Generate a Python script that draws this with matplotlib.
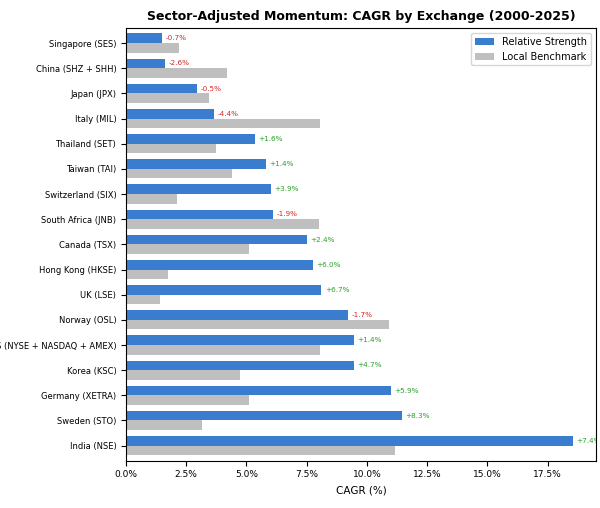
import matplotlib
matplotlib.use("Agg")
import matplotlib.pyplot as plt
import numpy as np
from matplotlib.ticker import FuncFormatter

exchanges = ["Singapore (SES)", "China (SHZ + SHH)", "Japan (JPX)", "Italy (MIL)", "Thailand (SET)",
             "Taiwan (TAI)", "Switzerland (SIX)", "South Africa (JNB)", "Canada (TSX)", "Hong Kong (HKSE)",
             "UK (LSE)", "Norway (OSL)", "US (NYSE + NASDAQ + AMEX)", "Korea (KSC)", "Germany (XETRA)",
             "Sweden (STO)", "India (NSE)"]
rel = [1.5, 1.6, 2.95, 3.65, 5.35, 5.8, 6.0, 6.1, 7.5, 7.75, 8.1, 9.2, 9.45, 9.45, 11.0, 11.45, 18.55]
bench = [2.2, 4.2, 3.45, 8.05, 3.75, 4.4, 2.1, 8.0, 5.1, 1.75, 1.4, 10.9, 8.05, 4.75, 5.1, 3.15, 11.15]
diffs = [-0.7, -2.6, -0.5, -4.4, 1.6, 1.4, 3.9, -1.9, 2.4, 6.0, 6.7, -1.7, 1.4, 4.7, 5.9, 8.3, 7.4]

fig = plt.figure(figsize=(6, 5.08), dpi=100)
ax = fig.add_axes([0.21, 0.093, 0.783, 0.852])
y = np.arange(len(exchanges))
h = 0.38
ax.barh(y - h/2, rel, height=h, color="#3a7dce", label="Relative Strength")
ax.barh(y + h/2, bench, height=h, color="#bfbfbf", label="Local Benchmark")
for yi, r, d in zip(y, rel, diffs):
    ax.text(r + 0.15, yi - h/2, f"{d:+.1f}%", va="center", fontsize=5.2,
            color="#2ca02c" if d > 0 else "#d62728", clip_on=True)
ax.set_yticks(y)
ax.set_yticklabels(exchanges, fontsize=6)
ax.invert_yaxis()
ax.set_ylim(len(exchanges) - 0.4, -0.6)
ax.set_xlim(0, 19.5)
ax.set_xticks(np.arange(0, 19, 2.5))
ax.xaxis.set_major_formatter(FuncFormatter(lambda v, p: f"{v:.1f}%"))
ax.tick_params(axis="x", labelsize=6.5)
ax.set_xlabel("CAGR (%)", fontsize=7.5)
ax.set_title("Sector-Adjusted Momentum: CAGR by Exchange (2000-2025)", fontsize=9, fontweight="bold")
ax.legend(loc="upper right", fontsize=7)
fig.savefig("out.png", dpi=100)
